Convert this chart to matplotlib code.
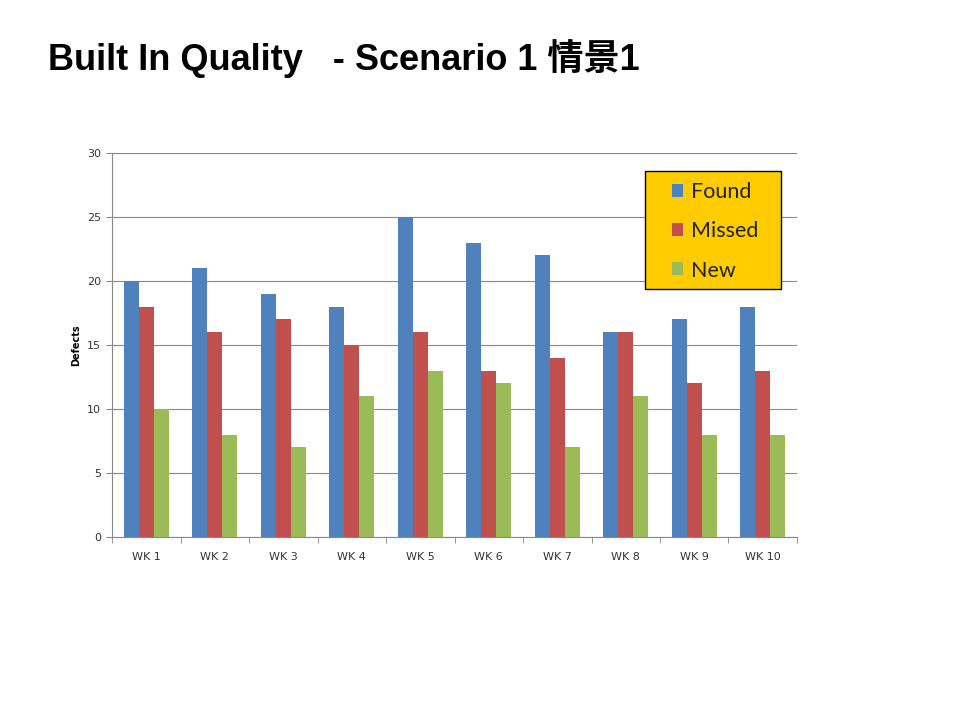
import numpy as np
import matplotlib.pyplot as plt
from matplotlib.patches import Rectangle

weeks = ['WK 1', 'WK 2', 'WK 3', 'WK 4', 'WK 5', 'WK 6', 'WK 7', 'WK 8', 'WK 9', 'WK 10']
found = [20, 21, 19, 18, 25, 23, 22, 16, 17, 18]
missed = [18, 16, 17, 15, 16, 13, 14, 16, 12, 13]
new = [10, 8, 7, 11, 13, 12, 7, 11, 8, 8]

series = [('Found', found, '#4F81BD'), ('Missed', missed, '#C0504D'), ('New', new, '#9BBB59')]

fig = plt.figure(figsize=(9.6, 7.2), dpi=100)
fig.patch.set_facecolor('white')

# 标题
fig.text(0.05, 0.918, 'Built In Quality   - Scenario 1 情景1', fontsize=26, fontweight='bold',
         family=['Liberation Sans', 'Noto Sans CJK SC', 'DejaVu Sans'], va='center', ha='left',
         color='black')

ax = fig.add_axes([0.1167, 0.2542, 0.7135, 0.5333])
x = np.arange(len(weeks))
w = 0.22
for i, (name, vals, col) in enumerate(series):
    ax.bar(x + (i - 1) * w, vals, width=w, color=col, label=name, zorder=3)

ax.set_xlim(-0.5, len(weeks) - 0.5)
ax.set_ylim(0, 30)
ax.set_yticks(range(0, 31, 5))
ax.set_xticks(x)
ax.set_xticklabels(weeks, fontsize=8, color='#333333')
ax.tick_params(axis='x', length=0, pad=11)
ax.set_xticks(np.arange(-0.5, len(weeks)), minor=True)
ax.tick_params(axis='x', which='minor', length=4, color='#888888')
ax.tick_params(axis='y', labelsize=8, labelcolor='#333333', length=4, color='#888888', pad=4)
ax.grid(axis='y', color='#888888', linewidth=0.8, zorder=0)
for s in ['top', 'right']:
    ax.spines[s].set_visible(False)
for s in ['left', 'bottom']:
    ax.spines[s].set_color('#888888')
ax.set_ylabel('Defects', fontsize=7, fontweight='bold', labelpad=4)

# 图例背景框
box = Rectangle((0.778, 0.646), 0.199, 0.307, transform=ax.transAxes, facecolor='#FFCC00',
                edgecolor='black', linewidth=1, zorder=4)
ax.add_patch(box)
leg = ax.legend(loc='upper left', bbox_to_anchor=(0.817, 0.925), frameon=False,
                prop={'family': 'Lato', 'size': 15.5}, handlelength=0.55, handleheight=0.55,
                labelspacing=0.9, borderpad=0, handletextpad=0.35, borderaxespad=0)
leg.set_zorder(5)
for t in leg.get_texts():
    t.set_color('#222222')

fig.savefig('out.png', dpi=100)
